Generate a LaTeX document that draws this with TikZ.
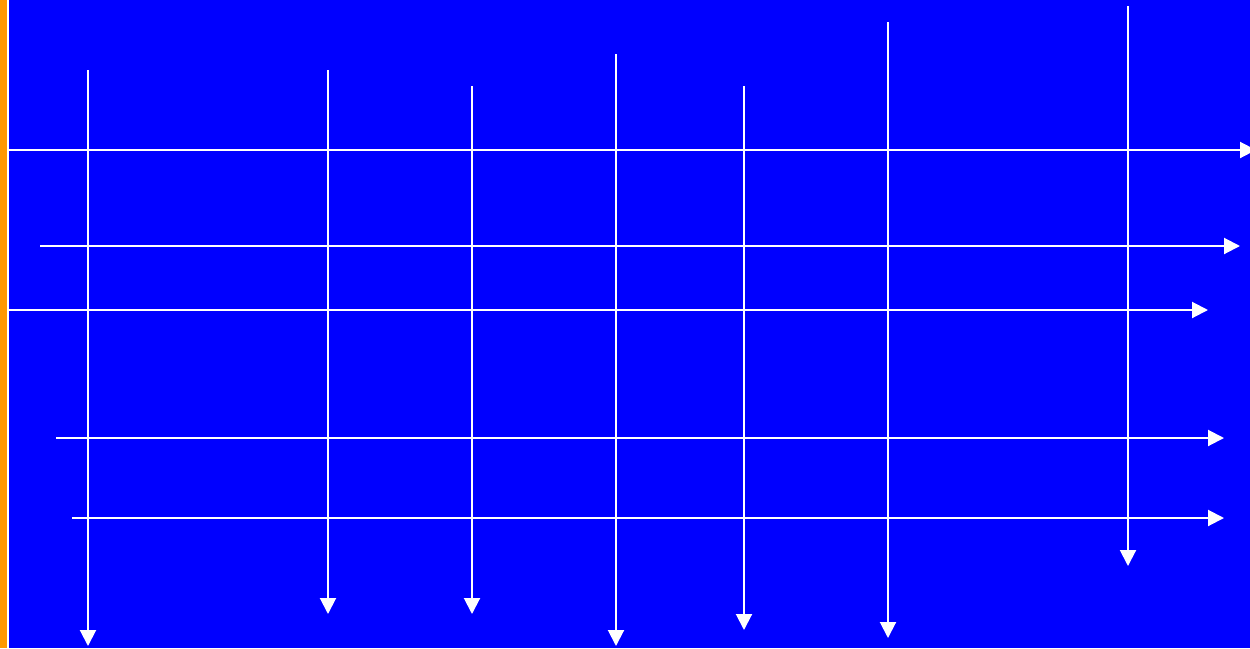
\documentclass[tikz,border=0pt]{standalone}
\usetikzlibrary{arrows.meta}
\definecolor{bgblue}{RGB}{0,0,255}
\definecolor{stripe}{RGB}{255,153,0}
\tikzset{
  flow/.style={white, line width=2pt, -{Triangle[length=16pt,width=16pt]}}
}
\begin{document}
\begin{tikzpicture}[x=1pt,y=-1pt]
\useasboundingbox (0,0) rectangle (1250,648);
\fill[bgblue] (0,0) rectangle (1250,648);
\fill[stripe] (0,0) rectangle (7,648);
\fill[white] (7,0) rectangle (8.5,648);
% horizontal arrows
\coordinate (h1s) at (8.5,150);  \coordinate (h1e) at (1256,150);
\coordinate (h2s) at (40,246);   \coordinate (h2e) at (1240,246);
\coordinate (h3s) at (8.5,310);  \coordinate (h3e) at (1208,310);
\coordinate (h4s) at (56,438);   \coordinate (h4e) at (1224,438);
\coordinate (h5s) at (72,518);   \coordinate (h5e) at (1224,518);
\foreach \i in {1,...,5} \draw[flow] (h\i s) -- (h\i e);
% vertical arrows
\coordinate (v1s) at (88,70);    \coordinate (v1e) at (88,646);
\coordinate (v2s) at (328,70);   \coordinate (v2e) at (328,614);
\coordinate (v3s) at (472,86);   \coordinate (v3e) at (472,614);
\coordinate (v4s) at (616,54);   \coordinate (v4e) at (616,646);
\coordinate (v5s) at (744,86);   \coordinate (v5e) at (744,630);
\coordinate (v6s) at (888,22);   \coordinate (v6e) at (888,638);
\coordinate (v7s) at (1128,6);   \coordinate (v7e) at (1128,566);
\foreach \i in {1,...,7} \draw[flow] (v\i s) -- (v\i e);
\end{tikzpicture}
\end{document}
